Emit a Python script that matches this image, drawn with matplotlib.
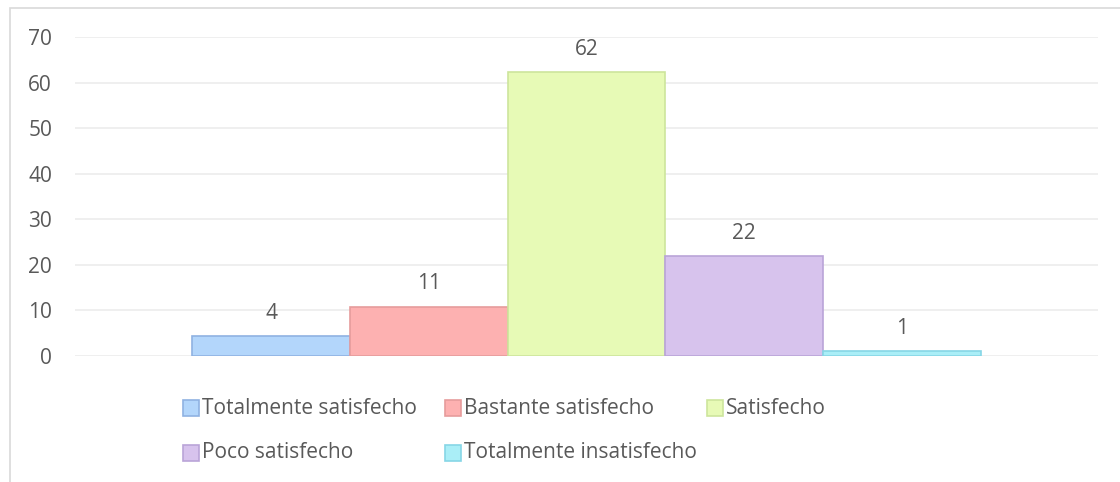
import matplotlib.pyplot as plt
from matplotlib.patches import Rectangle

# satisfaction survey, one bar per answer
categories = ["Totalmente satisfecho", "Bastante satisfecho", "Satisfecho",
              "Poco satisfecho", "Totalmente insatisfecho"]
values = [4.4, 10.8, 62.3, 21.9, 1.1]
labels = ["4", "11", "62", "22", "1"]
yticks = [0, 10, 20, 30, 40, 50, 60, 70]

fills = ["#b3d6fb", "#fdb1b1", "#e7fab6", "#d7c3ed", "#aaeef7"]
edges = ["#8fb2e2", "#e69c9c", "#cde59c", "#baa4d8", "#86d6e6"]
txt = "#595959"
fs = 15

plt.rcParams["font.family"] = ["Open Sans", "DejaVu Sans"]

fig = plt.figure(figsize=(11.2, 4.82), dpi=100)
ax = fig.add_axes([75 / 1120, 1 - 356 / 482, (1098 - 75) / 1120, (356 - 37) / 482])

x = list(range(len(values)))
bars = ax.bar(x, values, width=1.0, color=fills, edgecolor=edges, linewidth=1.2)

for xi, v, lab in zip(x, values, labels):
    ax.annotate(lab, (xi, v), xytext=(0, 16.5), textcoords="offset points",
                ha="center", va="center", fontsize=fs, color=txt)

ax.set_xlim(2 - 3.245, 2 + 3.245)
ax.set_ylim(0, 70)
ax.set_yticks(yticks)
ax.set_xticks([])
ax.tick_params(axis="y", length=0, pad=16.5, labelsize=fs, labelcolor=txt)
for s in ax.spines.values():
    s.set_visible(False)
ax.yaxis.grid(True, color="#ececec", linewidth=1.2)
ax.set_axisbelow(True)

# legend laid out like the spreadsheet one: fixed slots, 3 per row
for i, (name, fc, ec) in enumerate(zip(categories, fills, edges)):
    col, row = i % 3, i // 3
    px = 183 + col * 262
    py = 408 + row * 45
    fig.patches.append(Rectangle((px / 1120, 1 - (py + 8) / 482), 16 / 1120, 16 / 482,
                                 transform=fig.transFigure, facecolor=fc,
                                 edgecolor=ec, linewidth=1.2))
    fig.text((px + 19) / 1120, 1 - py / 482, name, ha="left", va="center",
             fontsize=fs, color=txt)

# chart frame
fig.patches.append(Rectangle((10 / 1120, -0.05), 1.1, 1.05 - 8 / 482,
                             transform=fig.transFigure, fill=False,
                             edgecolor="#d9d9d9", linewidth=1.2))

fig.savefig("out.png", dpi=100)
